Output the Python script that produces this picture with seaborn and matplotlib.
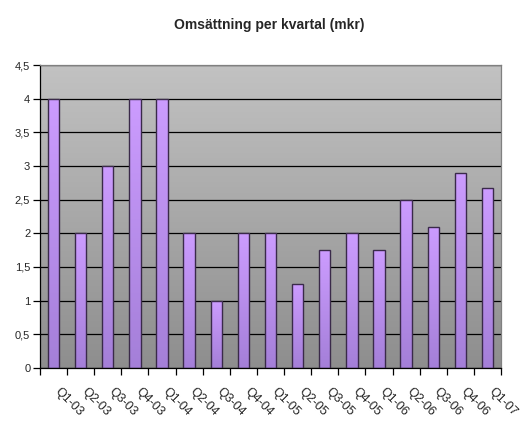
import matplotlib
matplotlib.use("Agg")
import matplotlib.pyplot as plt
import matplotlib.transforms as mtransforms
from matplotlib.colors import LinearSegmentedColormap
from matplotlib.ticker import FuncFormatter, MultipleLocator
import numpy as np
import seaborn as sns

quarters = ["Q1-03", "Q2-03", "Q3-03", "Q4-03",
            "Q1-04", "Q2-04", "Q3-04", "Q4-04",
            "Q1-05", "Q2-05", "Q3-05", "Q4-05",
            "Q1-06", "Q2-06", "Q3-06", "Q4-06",
            "Q1-07"]
revenue = [4, 2, 3, 4, 4, 2, 1, 2, 2, 1.25, 1.75, 2, 1.75, 2.5, 2.1, 2.9, 2.67]

sns.set_style("white")
plt.rcParams["font.family"] = ["Liberation Sans", "DejaVu Sans"]

fig = plt.figure(figsize=(5.26, 4.21), dpi=100)
ax = fig.add_axes([40 / 526, 53 / 421, 461 / 526, 303 / 421])

ax = sns.barplot(x=quarters, y=revenue, color="#b58ae8", width=0.42,
                 edgecolor="#3a2a4a", linewidth=1.0, ax=ax)
n = len(quarters)

# grey gradient plot area
bg = LinearSegmentedColormap.from_list("bg", ["#8e8e8e", "#c2c2c2"])
grad = np.linspace(0, 1, 256).reshape(-1, 1)
ax.imshow(grad, cmap=bg, origin="lower", aspect="auto", zorder=0,
          extent=[-0.5, n - 0.5, 0, 4.5])

# purple gradient inside each bar
barcm = LinearSegmentedColormap.from_list("bar", ["#a47fd8", "#cc9cff"])
for p in ax.patches:
    x0, y0 = p.get_x(), p.get_y()
    w, h = p.get_width(), p.get_height()
    im = ax.imshow(grad, cmap=barcm, origin="lower", aspect="auto",
                   extent=[x0, x0 + w, y0, y0 + h], zorder=2)
    im.set_clip_path(p)
    p.set_facecolor("none")
    p.set_zorder(3)

ax.set_xlim(-0.5, n - 0.5)
ax.set_ylim(0, 4.5)

ax.yaxis.set_major_locator(MultipleLocator(0.5))
ax.yaxis.set_major_formatter(FuncFormatter(lambda v, _: f"{v:g}".replace(".", ",")))
ax.grid(axis="y", color="black", linewidth=0.9, zorder=1)
ax.set_axisbelow(True)

ax.set_xticks(np.arange(-0.5, n), minor=True)
ax.tick_params(axis="x", which="minor", bottom=True, length=5, width=0.9,
               color="black", direction="out")
ax.tick_params(axis="x", which="major", bottom=True, length=0, labelsize=9)
ax.tick_params(axis="y", left=True, length=5, width=0.9, color="black",
               direction="out", labelsize=8, pad=2)

offset = mtransforms.ScaledTranslation(7 / 100, -13 / 100, fig.dpi_scale_trans)
for lbl in ax.get_xticklabels():
    lbl.set_rotation(-45)
    lbl.set_ha("left")
    lbl.set_va("top")
    lbl.set_rotation_mode("anchor")
    lbl.set_transform(lbl.get_transform() + offset)

for side in ["left", "bottom"]:
    ax.spines[side].set_color("black")
    ax.spines[side].set_linewidth(0.9)
for side in ["top", "right"]:
    ax.spines[side].set_color("#808080")
    ax.spines[side].set_linewidth(0.9)

ax.set_xlabel("")
ax.set_ylabel("")

fig.text(269 / 526, 1 - 28.5 / 421, "Omsättning per kvartal (mkr)", ha="center",
         va="baseline", fontsize=10, fontweight="bold")

fig.savefig("out.png", dpi=100)
plt.close(fig)
